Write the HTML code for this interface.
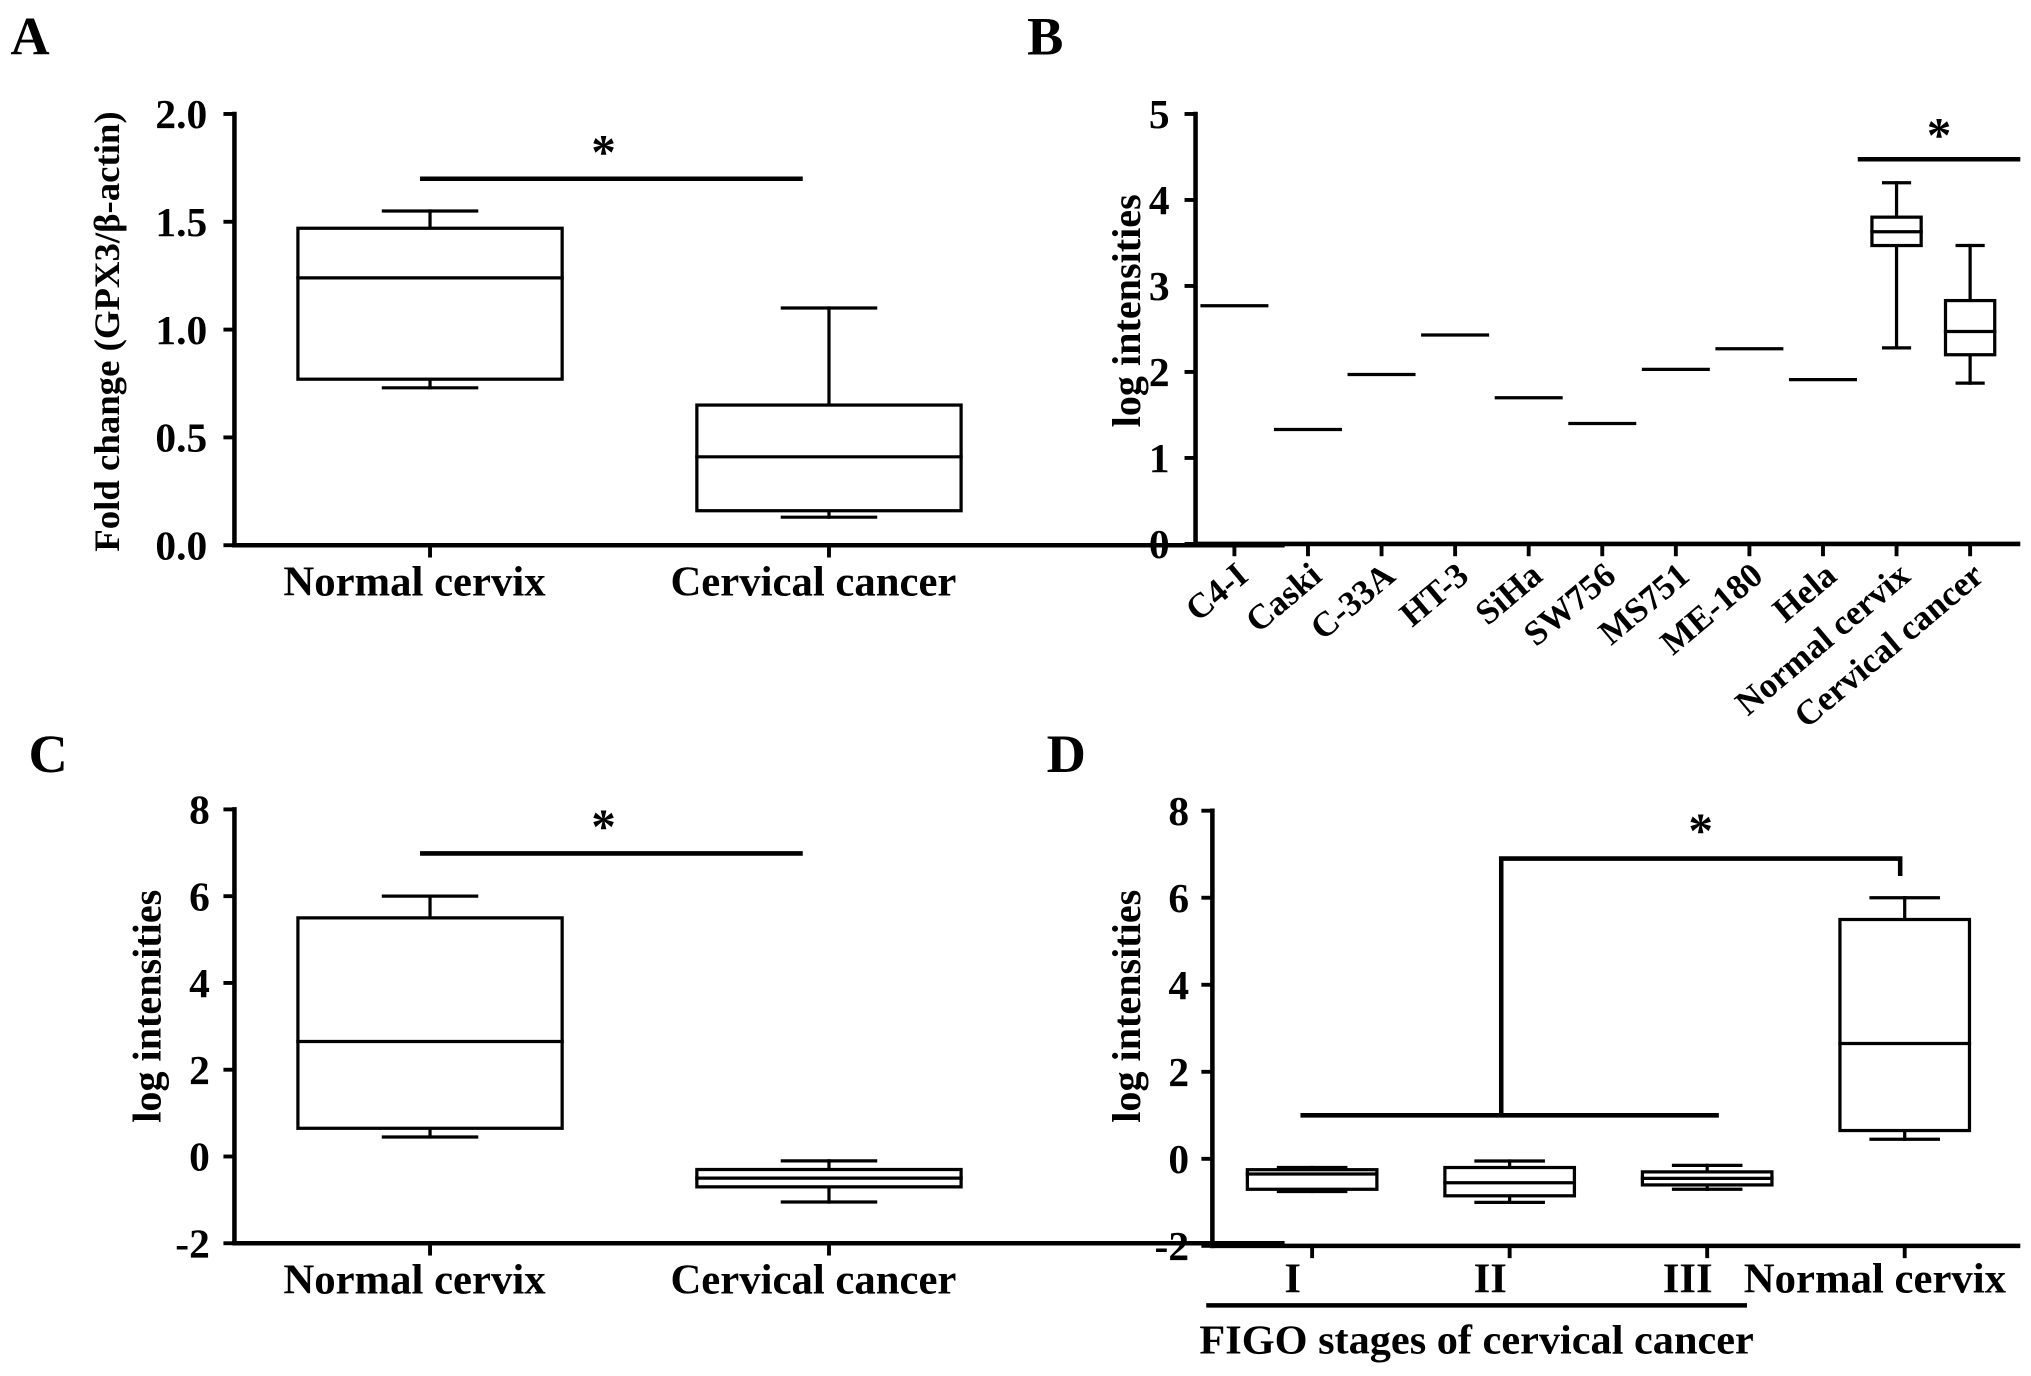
<!DOCTYPE html>
<html><head><meta charset="utf-8"><style>
html,body{margin:0;padding:0;background:#fff;}
svg{display:block;}
text{font-family:"Liberation Serif",serif;font-weight:bold;fill:#000;}
</style></head><body>
<svg id="fig" width="2031" height="1376" viewBox="0 0 1568 1062.5" preserveAspectRatio="none" xmlns="http://www.w3.org/2000/svg"></svg>
<script>
// Panel A data
const aCats = ["Normal cervix","Cervical cancer"];
const aMax = [1.55, 1.10];
const aQ3 = [1.47, 0.65];
const aMed = [1.24, 0.41];
const aQ1 = [0.77, 0.16];
const aMin = [0.73, 0.13];
const aTicks = ["0.0","0.5","1.0","1.5","2.0"];
// Panel B data
const bCats = ["C4-I","Caski","C-33A","HT-3","SiHa","SW756","MS751","ME-180","Hela","Normal cervix","Cervical cancer"];
const bLines = [2.77,1.33,1.97,2.43,1.70,1.40,2.03,2.27,1.91];
const bMax = [4.2, 3.47];
const bQ3 = [3.8, 2.83];
const bMed = [3.63, 2.47];
const bQ1 = [3.47, 2.20];
const bMin = [2.28, 1.87];
const bTicks = ["0","1","2","3","4","5"];
// Panel C data
const cCats = ["Normal cervix","Cervical cancer"];
const cMax = [6.0, -0.1];
const cQ3 = [5.5, -0.3];
const cMed = [2.65, -0.5];
const cQ1 = [0.65, -0.7];
const cMin = [0.45, -1.05];
const cTicks = ["-2","0","2","4","6","8"];
// Panel D data
const dCats = ["I","II","III","Normal cervix"];
const dMax = [-0.2, -0.05, -0.15, 6.0];
const dQ3 = [-0.25, -0.2, -0.3, 5.5];
const dMed = [-0.35, -0.55, -0.45, 2.65];
const dQ1 = [-0.7, -0.85, -0.6, 0.65];
const dMin = [-0.75, -1.0, -0.7, 0.45];
const dTicks = ["-2","0","2","4","6","8"];

const svg = document.getElementById('fig');
const NS = 'http://www.w3.org/2000/svg';
function el(tag, attrs, parent){
  const e = document.createElementNS(NS, tag);
  for (const k in attrs) e.setAttribute(k, attrs[k]);
  (parent||svg).appendChild(e);
  return e;
}
function line(g,x1,y1,x2,y2,w){
  return el('line',{x1:x1,y1:y1,x2:x2,y2:y2,stroke:'#000','stroke-width':w||2.5,'stroke-linecap':'square'},g);
}
function txt(g,x,y,s,size,anchor,extra){
  const t = el('text',Object.assign({x:x,y:y,'font-size':size,'text-anchor':anchor||'middle'},extra||{}),g);
  t.textContent = s;
  return t;
}
function boxes(g, xs, hw, capw, ys, mx, q3, md, q1, mn, name){
  for (let i=0;i<mx.length;i++){
    const b = el('g',{},g);
    
    
    const x = xs(i);
    line(b,x,ys(mx[i]),x,ys(q3[i]));
    line(b,x,ys(q1[i]),x,ys(mn[i]));
    line(b,x-capw,ys(mx[i]),x+capw,ys(mx[i]));
    line(b,x-capw,ys(mn[i]),x+capw,ys(mn[i]));
    el('rect',{x:x-hw,y:ys(q3[i]),width:2*hw,height:ys(q1[i])-ys(q3[i]),fill:'#fff',stroke:'#000','stroke-width':2.5},b);
    line(b,x-hw,ys(md[i]),x+hw,ys(md[i]));
  }
}
function yaxis(g,x,ys,ticks,vals,size,lx){
  line(g,x,ys(vals[0]),x,ys(vals[vals.length-1]),3.5);
  ticks.forEach((t,i)=>{
    line(g,x-7,ys(vals[i]),x,ys(vals[i]),3);
    const tt = txt(g,lx,ys(vals[i])+11,t,size,'end');
    
    
  });
}
function panelLetter(s,x,y){
  const t = txt(svg,x,y,s,42,'start');
  
  
}

// ---------- Panel A ----------
(function(){
  const g = el('g',{});
  
  
  panelLetter('A',8,42);
  const ys = v => 421 - v*166.5;
  const xs = i => 332 + i*308;
  yaxis(g,181,ys,aTicks,[0,0.5,1,1.5,2],32,160);
  line(g,181,421,990,421,3.5);
  aCats.forEach((c,i)=>{
    line(g,xs(i),421,xs(i),429,3);
    const t = txt(g,xs(i)-12,460,c,33,'middle');
    
    
  });
  boxes(g,xs,102,36,ys,aMax,aQ3,aMed,aQ1,aMin,'panel-a');
  const s = line(g,326,138,618,138,3.5);
  
  
  txt(g,466,130,'*',38,'middle');
  const yt = txt(g,0,0,'Fold change (GPX3/β-actin)',28,'middle',{transform:'translate(92,256) rotate(-90)',textLength:340,lengthAdjust:'spacingAndGlyphs'});
  
  
})();

// ---------- Panel B ----------
(function(){
  const g = el('g',{});
  
  
  panelLetter('B',793,42);
  const ys = v => 420 - v*66.4;
  const xs = i => 953 + i*56.8;
  yaxis(g,923,ys,bTicks,[0,1,2,3,4,5],32,903);
  line(g,923,420,1558,420,3.5);
  bCats.forEach((c,i)=>{
    line(g,xs(i),420,xs(i),428,3);
    const t = txt(g,0,0,c,27,'end',{transform:'translate('+(xs(i)+12)+',447) rotate(-40)'});
    
    
  });
  bLines.forEach((v,i)=>{
    const l = line(g,xs(i)-25,ys(v),xs(i)+25,ys(v),2.5);
    
    
  });
  boxes(g,i=>xs(i+9),19,10,ys,bMax,bQ3,bMed,bQ1,bMin,'panel-b');
  const s = line(g,1436,123,1558,123,3.5);
  
  
  txt(g,1497,117,'*',38,'middle');
  const yt = txt(g,0,0,'log intensities',31,'middle',{transform:'translate(880,240) rotate(-90)'});
  
  
})();

// ---------- Panel C ----------
(function(){
  const g = el('g',{});
  
  
  panelLetter('C',22,596);
  const ys = v => 893 - v*33.5;
  const xs = i => 332 + i*308;
  yaxis(g,181,ys,cTicks,[-2,0,2,4,6,8],32,162);
  line(g,181,960,990,960,3.5);
  cCats.forEach((c,i)=>{
    line(g,xs(i),960,xs(i),968,3);
    const t = txt(g,xs(i)-12,999,c,33,'middle');
    
    
  });
  boxes(g,xs,102,36,ys,cMax,cQ3,cMed,cQ1,cMin,'panel-c');
  const s = line(g,326,659,618,659,3.5);
  
  
  txt(g,466,651,'*',38,'middle');
  const yt = txt(g,0,0,'log intensities',31,'middle',{transform:'translate(124,777) rotate(-90)'});
  
  
})();

// ---------- Panel D ----------
(function(){
  const g = el('g',{});
  
  
  panelLetter('D',808,596);
  const ys = v => 894.8 - v*33.6;
  const xs = i => 1013 + i*152.5;
  yaxis(g,936,ys,dTicks,[-2,0,2,4,6,8],32,918);
  line(g,936,962,1558,962,3.5);
  dCats.forEach((c,i)=>{
    line(g,xs(i),962,xs(i),970,3);
    const off = i===3 ? -23 : -15;
    const t = txt(g,xs(i)+off,998,c,33,'middle');
    
    
  });
  boxes(g,xs,50,26,ys,dMax,dQ3,dMed,dQ1,dMin,'panel-d');
  const br = el('polyline',{points:'1004,'+ys(1)+' 1327,'+ys(1),fill:'none',stroke:'#000','stroke-width':3.5},g);
  
  
  const br2 = el('polyline',{points:'1159,'+ys(1)+' 1159,'+ys(6.9)+' 1467,'+ys(6.9)+' 1467,'+ys(6.5),fill:'none',stroke:'#000','stroke-width':3.5},g);
  
  
  txt(g,1313,654,'*',38,'middle');
  const fl = line(g,933,1008,1347,1008,3.5);
  
  
  const ft = txt(g,1140,1045,'FIGO stages of cervical cancer',32,'middle',{textLength:428,lengthAdjust:'spacingAndGlyphs'});
  
  
  const yt = txt(g,0,0,'log intensities',31,'middle',{transform:'translate(880,777) rotate(-90)'});
  
  
})();
</script>
</body></html>
